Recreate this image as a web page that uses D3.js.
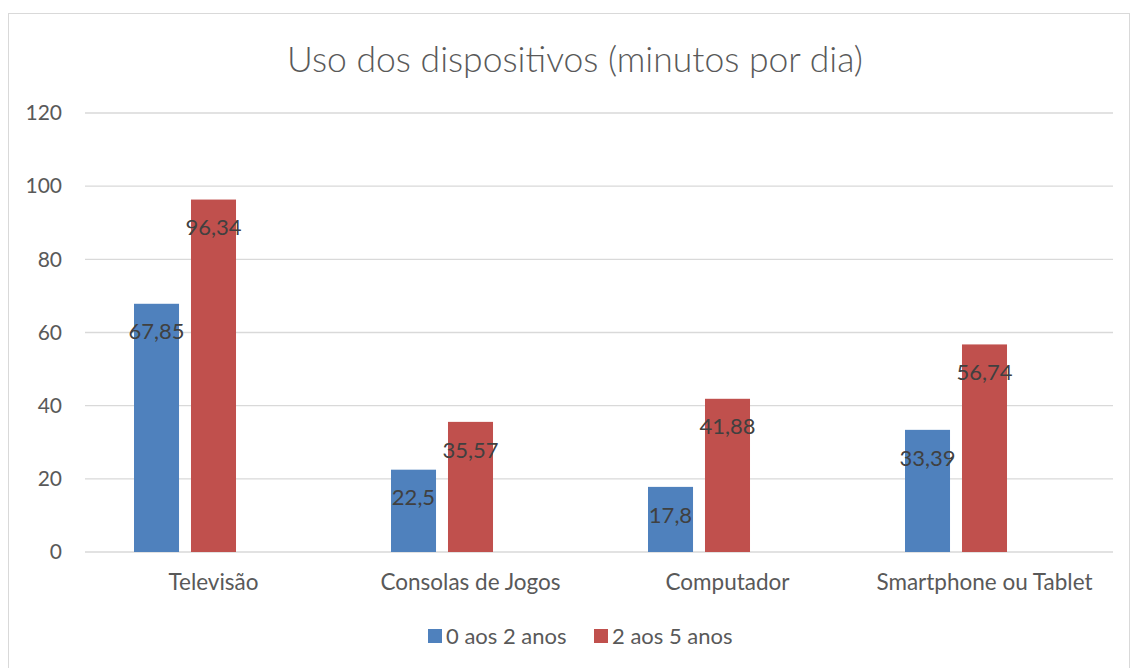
<!DOCTYPE html>
<html lang="pt">
  <head>
    <meta charset="UTF-8" />
    <title>Uso dos dispositivos</title>
    <script src="https://d3js.org/d3.v7.min.js"></script>
    <style>
      body {
        margin: 0;
        background: #fff;
      }
      svg text {
        font-family: Lato, "Open Sans", sans-serif;
      }
    </style>
  </head>
  <body>
    <svg width="1131" height="668"></svg>
    <script>
      // data
      const categories = ["Televisão", "Consolas de Jogos", "Computador", "Smartphone ou Tablet"];
      const seriesNames = ["0 aos 2 anos", "2 aos 5 anos"];
      const youngValues = [67.85, 22.5, 17.8, 33.39];
      const olderValues = [96.34, 35.57, 41.88, 56.74];
      const yTicks = [0, 20, 40, 60, 80, 100, 120];
      const colors = ["#4f81bd", "#c0504d"];

      const svg = d3.select("svg");

      // chart border
      svg.append("rect")
        .attr("x", 8.5).attr("y", 13.5)
        .attr("width", 1121).attr("height", 670)
        .attr("fill", "#fff")
        .attr("stroke", "#d9d9d9");

      const margin = { top: 113, right: 18, bottom: 116, left: 85 };
      const width = 1131 - margin.left - margin.right;
      const height = 668 - margin.top - margin.bottom;

      const g = svg.append("g").attr("transform", `translate(${margin.left},${margin.top})`);

      const x = d3.scaleBand().domain(categories).range([0, width]);
      // three slots per category, like the original (third slot empty)
      const xInner = d3.scaleBand().domain([0, 1, 2]).range([49, x.bandwidth() - 49]).paddingInner(0.21);
      const y = d3.scaleLinear().domain([0, 120]).range([height, 0]);

      // gridlines
      g.append("g")
        .selectAll("line")
        .data(yTicks)
        .join("line")
        .attr("x1", 0).attr("x2", width)
        .attr("y1", d => y(d)).attr("y2", d => y(d))
        .attr("stroke", "#d9d9d9")
        .attr("stroke-width", 1.3);

      // y axis
      const yAxis = g.append("g")
        .call(d3.axisLeft(y).tickValues(yTicks).tickSize(0).tickPadding(23));
      yAxis.select(".domain").remove();
      yAxis.selectAll("text").attr("fill", "#595959").style("font-size", "21px");

      // x axis
      const xAxis = g.append("g")
        .attr("transform", `translate(0,${height})`)
        .call(d3.axisBottom(x).tickSize(0).tickPadding(22));
      xAxis.select(".domain").remove();
      xAxis.selectAll("text").attr("fill", "#595959").style("font-size", "22.5px");

      const rows = categories.map((c, i) => ({ cat: c, vals: [youngValues[i], olderValues[i]] }));

      const groups = g.selectAll(".grp")
        .data(rows)
        .join("g")
        .attr("class", "grp")
        .attr("transform", d => `translate(${x(d.cat)},0)`);

      groups.selectAll("rect")
        .data(d => d.vals.map((v, k) => ({ v, k })))
        .join("rect")
        .attr("x", d => xInner(d.k))
        .attr("width", xInner.bandwidth())
        .attr("y", d => y(d.v))
        .attr("height", d => height - y(d.v))
        .attr("fill", d => colors[d.k]);

      groups.selectAll("text.lbl")
        .data(d => d.vals.map((v, k) => ({ v, k })))
        .join("text")
        .attr("class", "lbl")
        .attr("x", d => xInner(d.k) + xInner.bandwidth() / 2)
        .attr("y", d => y(d.v) + 28)
        .attr("dy", "0.35em")
        .attr("text-anchor", "middle")
        .attr("fill", "#404040")
        .style("font-size", "22px")
        .text(d => String(d.v).replace(".", ","));

      // title
      svg.append("text")
        .attr("x", 575).attr("y", 72)
        .attr("text-anchor", "middle")
        .attr("fill", "#595959")
        .style("font-size", "35.5px")
        .style("font-weight", 300)
        .text("Uso dos dispositivos (minutos por dia)");

      // legend
      const legendX = [428, 594];
      const legend = svg.append("g");
      seriesNames.forEach((name, i) => {
        legend.append("rect")
          .attr("x", legendX[i]).attr("y", 629)
          .attr("width", 14).attr("height", 14)
          .attr("fill", colors[i]);
        legend.append("text")
          .attr("x", legendX[i] + 18).attr("y", 636)
          .attr("dy", "0.35em")
          .attr("fill", "#595959")
          .style("font-size", "22px")
          .text(name);
      });
    </script>
  </body>
</html>
